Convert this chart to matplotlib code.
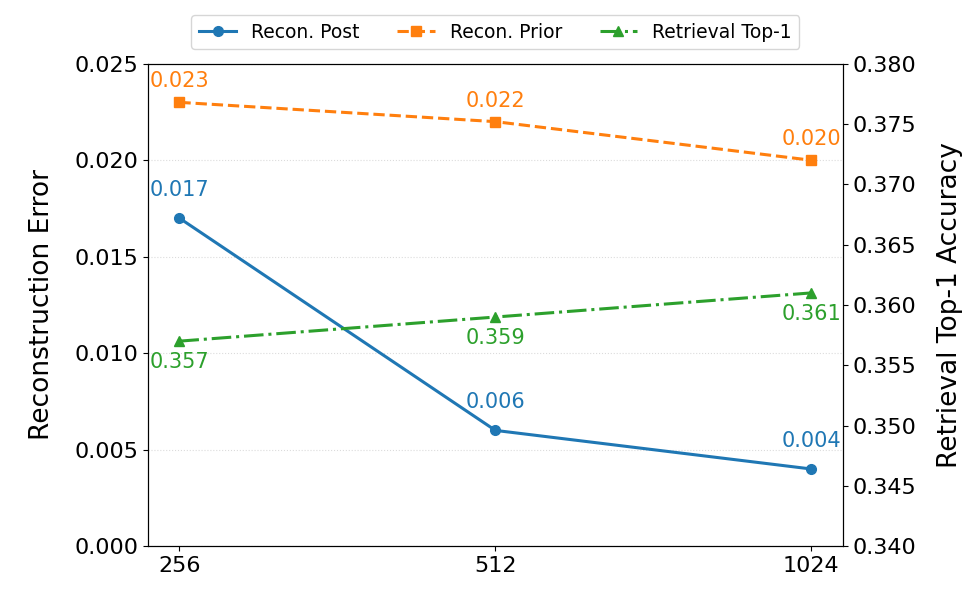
import matplotlib
matplotlib.use("Agg")
import matplotlib.pyplot as plt
import matplotlib.ticker as mticker

# data
codebook_sizes = ["256", "512", "1024"]
recon_post = [0.017, 0.006, 0.004]
recon_prior = [0.023, 0.022, 0.020]
retrieval_top1 = [0.357, 0.359, 0.361]

x = list(range(len(codebook_sizes)))

fig = plt.figure(figsize=(9.79, 6.13), dpi=100)
ax = fig.add_axes([0.151, 0.109, 0.710, 0.787])
ax2 = ax.twinx()

l1, = ax.plot(x, recon_post, "-o", color="tab:blue", lw=2.2, ms=7,
              label="Recon. Post")
l2, = ax.plot(x, recon_prior, "--s", color="tab:orange", lw=2.2, ms=7,
              label="Recon. Prior")
l3, = ax2.plot(x, retrieval_top1, "-.^", color="tab:green", lw=2.2, ms=7,
               label="Retrieval Top-1")

# value labels
for xi, v in zip(x, recon_post):
    ax.annotate(f"{v:.3f}", (xi, v), textcoords="offset points",
                xytext=(0, 13), ha="center", va="bottom",
                color="tab:blue", fontsize=15)
for xi, v in zip(x, recon_prior):
    ax.annotate(f"{v:.3f}", (xi, v), textcoords="offset points",
                xytext=(0, 8), ha="center", va="bottom",
                color="tab:orange", fontsize=15)
for xi, v in zip(x, retrieval_top1):
    ax2.annotate(f"{v:.3f}", (xi, v), textcoords="offset points",
                 xytext=(0, -8), ha="center", va="top",
                 color="tab:green", fontsize=15)

ax.set_ylim(0, 0.025)
ax2.set_ylim(0.34, 0.38)
ax.yaxis.set_major_locator(mticker.MultipleLocator(0.005))
ax.yaxis.set_major_formatter(mticker.FormatStrFormatter("%.3f"))
ax2.yaxis.set_major_locator(mticker.MultipleLocator(0.005))
ax2.yaxis.set_major_formatter(mticker.FormatStrFormatter("%.3f"))

ax.set_xticks(x)
ax.set_xticklabels(codebook_sizes)
ax.tick_params(labelsize=16)
ax2.tick_params(labelsize=16)

ax.set_ylabel("Reconstruction Error", fontsize=19, labelpad=14)
ax2.set_ylabel("Retrieval Top-1 Accuracy", fontsize=19, labelpad=15)

ax.grid(axis="y", linestyle=":", color="lightgray", alpha=0.8)
ax.set_axisbelow(True)

ax.legend(handles=[l1, l2, l3], loc="upper center", bbox_to_anchor=(0.5, 1.12),
          ncol=3, fontsize=13.5, frameon=True)

fig.savefig("out.png", dpi=100)
